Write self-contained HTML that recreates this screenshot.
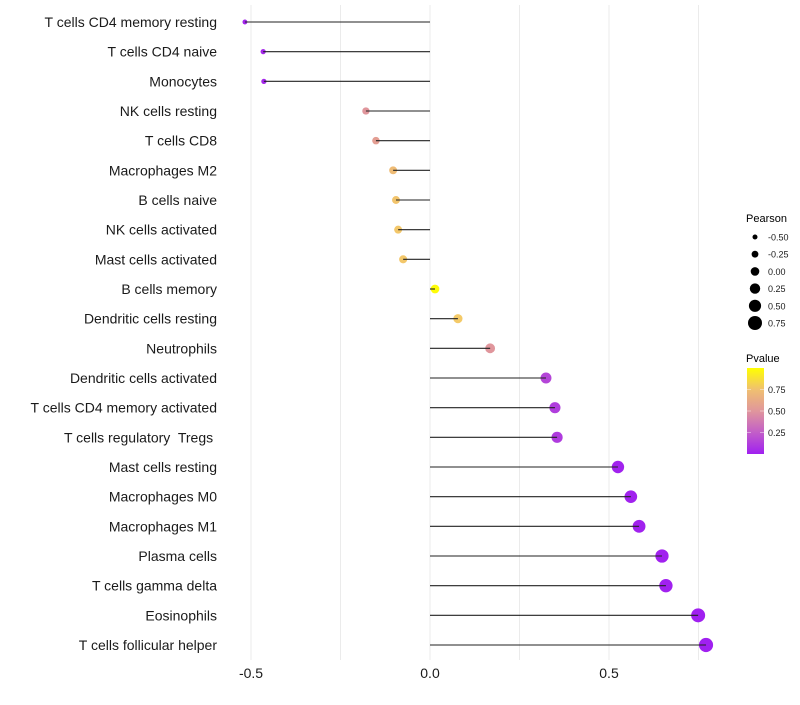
<!DOCTYPE html>
<html><head><meta charset="utf-8"><style>
body{margin:0;background:#fff;}
svg text{font-family:"Liberation Sans",sans-serif;white-space:pre;}
</style></head><body>
<svg id="chart" width="800" height="700" xmlns="http://www.w3.org/2000/svg">
<g id="grid"></g>
<g id="points"></g>
<g id="marks"></g>
<g id="ylabels"></g>
<g id="xlabels"></g>
<g id="legend">
<defs><linearGradient id="pg" x1="0" y1="1" x2="0" y2="0">
<stop offset="0" stop-color="#a020f0"/><stop offset="0.25" stop-color="#c25ec8"/><stop offset="0.5" stop-color="#e0969c"/><stop offset="0.75" stop-color="#f0c070"/><stop offset="1" stop-color="#ffff00"/></linearGradient></defs>
<text x="746" y="222" font-size="11" fill="#000">Pearson</text>
<text x="746" y="362" font-size="11" fill="#000">Pvalue</text>
<rect x="747" y="368" width="17" height="86" fill="url(#pg)"/>
</g>
</svg>
<script>
const categories=["T cells CD4 memory resting","T cells CD4 naive","Monocytes","NK cells resting","T cells CD8","Macrophages M2","B cells naive","NK cells activated","Mast cells activated","B cells memory","Dendritic cells resting","Neutrophils","Dendritic cells activated","T cells CD4 memory activated","T cells regulatory  Tregs ","Mast cells resting","Macrophages M0","Macrophages M1","Plasma cells","T cells gamma delta","Eosinophils","T cells follicular helper"];
const pearson=[-0.517,-0.466,-0.464,-0.179,-0.151,-0.103,-0.095,-0.089,-0.075,0.014,0.078,0.168,0.324,0.349,0.355,0.525,0.561,0.584,0.648,0.659,0.749,0.771];
const pvalue=[0.02,0.03,0.03,0.5,0.55,0.72,0.78,0.8,0.8,0.99,0.82,0.5,0.15,0.12,0.11,0.01,0.01,0.01,0.005,0.005,0.002,0.001];
const xTicks=[-0.5,0,0.5];
const xTickLabels=["-0.5","0.0","0.5"];
const sizeBreaks=[-0.5,-0.25,0,0.25,0.5,0.75];
const sizeLabels=["-0.50","-0.25","0.00","0.25","0.50","0.75"];
const pTicks=[0.25,0.5,0.75];
const pTickLabels=["0.25","0.50","0.75"];

const NS="http://www.w3.org/2000/svg";
const xs=v=>430+v*358;
const ys=i=>22+i*(623/21);
const rs=v=>4.3+3.6*v;
function lerp(a,b,t){return a+(b-a)*t;}
const stops=[[0,[160,32,240]],[0.25,[194,94,200]],[0.5,[224,150,156]],[0.75,[240,192,112]],[0.85,[246,206,100]],[1,[255,255,0]]];
function col(p){for(let k=0;k<stops.length-1;k++){const [a,ca]=stops[k],[b,cb]=stops[k+1];if(p<=b){const t=(p-a)/(b-a);return `rgb(${ca.map((c,j)=>Math.round(lerp(c,cb[j],t))).join(",")})`;}}return "rgb(255,255,0)";}
function mk(tag,attrs,parent){const e=document.createElementNS(NS,tag);for(const k in attrs)e.setAttribute(k,attrs[k]);parent.appendChild(e);return e;}
const grid=document.getElementById('grid'),pts=document.getElementById('points'),marks=document.getElementById('marks'),yl=document.getElementById('ylabels'),xl=document.getElementById('xlabels'),lg=document.getElementById('legend');
[-0.5,-0.25,0,0.25,0.5,0.75].forEach(v=>{const l=mk('line',{x1:xs(v),x2:xs(v),y1:5,y2:660,stroke:'#ebebeb','stroke-width':1},grid);

});
categories.forEach((c,i)=>{
const y=ys(i);
const ci=mk('circle',{cx:xs(pearson[i]),cy:y,r:rs(pearson[i]),fill:col(pvalue[i])},pts);


const ln=mk('line',{x1:xs(0),x2:xs(pearson[i]),y1:y,y2:y,stroke:'#222','stroke-width':1.1},marks);


const t=mk('text',{x:217,y:y+5,'text-anchor':'end','font-size':14,fill:'#1a1a1a'},yl);t.textContent=c;


});
xTicks.forEach((v,i)=>{const t=mk('text',{x:xs(v),y:678,'text-anchor':'middle','font-size':14,fill:'#1a1a1a'},xl);t.textContent=xTickLabels[i];

});
sizeBreaks.forEach((v,i)=>{const y=237+i*17.2;
const c=mk('circle',{cx:755,cy:y,r:rs(v),fill:'#000'},lg);


const t=mk('text',{x:768,y:y+3.5,'font-size':9,fill:'#1a1a1a'},lg);t.textContent=sizeLabels[i];

});
pTicks.forEach((v,i)=>{const y=454-v*86;
const t=mk('text',{x:768,y:y+3.5,'font-size':9,fill:'#1a1a1a'},lg);t.textContent=pTickLabels[i];


mk('line',{x1:747,x2:751,y1:y,y2:y,stroke:'#fff','stroke-width':0.7,opacity:0.6},lg);
mk('line',{x1:760,x2:764,y1:y,y2:y,stroke:'#fff','stroke-width':0.7,opacity:0.6},lg);});
</script>
</body></html>
